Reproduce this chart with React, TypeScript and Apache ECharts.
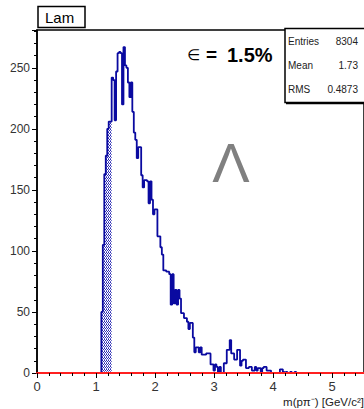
import React, { useEffect, useRef } from "react";
import * as echarts from "echarts";

// Histogram binning (GeV/c^2)
const binStart = 1.09;
const binWidth = 0.025;

// Bin contents
const counts = [
  50, 105, 163, 178, 200, 206, 206,
  242, 240, 207, 247, 262, 263, 262,
  220, 267, 252, 250, 238, 226, 238,
  214, 197, 191, 176, 185, 185, 162,
  152, 158, 158, 157, 139, 157, 142,
  130, 134, 134, 112, 112, 103, 97,
  84, 84, 83, 83, 81, 56, 81,
  57, 68, 56, 68, 61, 49, 49,
  45, 45, 42, 36, 41, 41, 29,
  17, 21, 21, 17, 21, 15, 15,
  15, 16, 16, 16, 7, 7, 2,
  7, 5, 0, 5, 0, 0, 8,
  8, 19, 19, 27, 16, 16, 11,
  11, 19, 19, 6, 10, 11, 11,
  4, 4, 5, 5, 2, 2, 5,
  2, 4, 4, 1, 4, 5, 5,
  2, 2, 2, 0, 0, 0, 0,
  0, 0, 3, 3, 1, 0, 1,
  0, 0, 1, 0, 0, 1, 0,
];

// Hatched (signal window) bins
const signalCounts = [50, 105, 163, 178, 200, 206, 206];

const xTickLabels = [0, 1, 2, 3, 4, 5];
const yTickLabels = [0, 50, 100, 150, 200, 250];

const statNames = ["Entries", "Mean", "RMS"];
const statValues = ["8304", "1.73", "0.4873"];

const histTitle = "Lam";
const effSymbol = "∈";
const effValue = "1.5%";
const particle = "Λ";
const xTitle = "m(pπ⁻) [GeV/c²]";

function toSteps(vals: number[]) {
  const pts: number[][] = [[binStart, 0]];
  vals.forEach((v, i) => pts.push([binStart + i * binWidth, v]));
  const end = binStart + vals.length * binWidth;
  pts.push([end, vals[vals.length - 1]]);
  pts.push([end, 0]);
  return pts;
}

function makeHatch() {
  const c = document.createElement("canvas");
  c.width = 4;
  c.height = 3;
  const ctx = c.getContext("2d")!;
  ctx.fillStyle = "#2a2ab0";
  ctx.fillRect(0, 0, 1, 1);
  ctx.fillRect(2, 0, 1, 1);
  ctx.fillRect(1, 1, 1, 1);
  ctx.fillRect(3, 1, 1, 1);
  ctx.fillStyle = "#6a6ad0";
  ctx.fillRect(0, 2, 1, 1);
  ctx.fillRect(2, 2, 1, 1);
  return c;
}

export default function App() {
  const ref = useRef<HTMLDivElement>(null);

  useEffect(() => {
    if (!ref.current) return;
    const chart = echarts.init(ref.current, undefined, { renderer: "svg" });
    const font = "Liberation Sans, Arial, sans-serif";
    const hatch = makeHatch();

    const statY = [41, 65, 89];
    const statGraphics: any[] = [];
    statNames.forEach((n, i) => {
      statGraphics.push({
        type: "text",
        x: 288,
        y: statY[i],
        z: 101,
        style: { text: n, fill: "#222", font: `10px ${font}`, textAlign: "left", textVerticalAlign: "middle" },
      });
      statGraphics.push({
        type: "text",
        x: 358,
        y: statY[i],
        z: 101,
        style: { text: statValues[i], fill: "#222", font: `10px ${font}`, textAlign: "right", textVerticalAlign: "middle" },
      });
    });

    chart.setOption({
      animation: false,
      backgroundColor: "#fff",
      grid: {
        left: 37,
        top: 30,
        right: -1,
        bottom: 36,
        show: true,
        borderColor: "#000",
        borderWidth: 1.5,
        backgroundColor: "transparent",
      },
      xAxis: {
        type: "value",
        min: 0,
        max: 5.54,
        interval: 1,
        z: 10,
        axisLine: { show: true, onZero: false, lineStyle: { color: "#ff2020", width: 2 } },
        axisTick: { show: true, length: 5, lineStyle: { color: "#000", width: 1 } },
        minorTick: { show: true, splitNumber: 5, length: 3, lineStyle: { color: "#000", width: 1 } },
        splitLine: { show: false },
        axisLabel: {
          margin: 7,
          fontSize: 13,
          fontFamily: font,
          color: "#333",
          showMaxLabel: false,
          formatter: (v: number) => (xTickLabels.includes(v) ? String(v) : ""),
        },
      },
      yAxis: {
        type: "value",
        min: 0,
        max: 281,
        interval: 50,
        axisLine: { show: true, lineStyle: { color: "#000", width: 1.5 } },
        axisTick: { show: true, length: 5, lineStyle: { color: "#000", width: 1 } },
        minorTick: { show: true, splitNumber: 5, length: 3, lineStyle: { color: "#000", width: 1 } },
        splitLine: { show: false },
        axisLabel: {
          margin: 7,
          fontSize: 12,
          fontFamily: font,
          color: "#333",
          showMaxLabel: false,
          formatter: (v: number) => (yTickLabels.includes(v) ? String(v) : ""),
        },
      },
      series: [
        {
          type: "line",
          data: toSteps(signalCounts),
          step: "end",
          symbol: "none",
          lineStyle: { width: 0, color: "#2a2ab0" },
          areaStyle: {
            color: { image: hatch, repeat: "repeat", imageWidth: 4, imageHeight: 3 } as any,
            opacity: 1,
          },
          z: 2,
        },
        {
          type: "line",
          data: toSteps(counts),
          step: "end",
          symbol: "none",
          lineStyle: { width: 1.8, color: "#0a0aa0" },
          z: 3,
        },
      ],
      graphic: [
        {
          type: "rect",
          z: 100,
          shape: { x: 38, y: 6.5, width: 47, height: 21 },
          style: { fill: "#fff", stroke: "#000", lineWidth: 1.5 },
        },
        {
          type: "text",
          x: 45,
          y: 17,
          z: 101,
          style: { text: histTitle, fill: "#000", font: `15px ${font}`, textAlign: "left", textVerticalAlign: "middle" },
        },
        {
          type: "rect",
          z: 100,
          shape: { x: 285, y: 28.5, width: 85, height: 74 },
          style: { fill: "#fff", stroke: "#000", lineWidth: 1.5 },
        },
        {
          type: "line",
          z: 100,
          shape: { x1: 286, y1: 103.5, x2: 364, y2: 103.5 },
          style: { stroke: "#000", lineWidth: 1.5 },
        },
        ...statGraphics,
        {
          type: "text",
          x: 187,
          y: 55,
          z: 101,
          style: { text: effSymbol, fill: "#000", font: `15px DejaVu Sans, sans-serif`, textAlign: "left", textVerticalAlign: "middle" },
        },
        {
          type: "text",
          x: 206,
          y: 54,
          z: 101,
          style: { text: "=", fill: "#000", font: `bold 19px ${font}`, textAlign: "left", textVerticalAlign: "middle" },
        },
        {
          type: "text",
          x: 227,
          y: 55,
          z: 101,
          style: { text: effValue, fill: "#000", font: `bold 20px ${font}`, textAlign: "left", textVerticalAlign: "middle" },
        },
        {
          type: "text",
          x: 231,
          y: 162,
          z: 101,
          style: { text: particle, fill: "#808080", font: `56px ${font}`, textAlign: "center", textVerticalAlign: "middle" },
        },
        {
          type: "text",
          x: 364,
          y: 402,
          z: 101,
          style: { text: xTitle, fill: "#222", font: `11.5px ${font}`, textAlign: "right", textVerticalAlign: "middle" },
        },
      ],
    });
    return () => chart.dispose();
  }, []);

  return (
    <div
      ref={ref}
      style={{ position: "fixed", left: 0, top: 0, width: 364, height: 409 }}
    />
  );
}
